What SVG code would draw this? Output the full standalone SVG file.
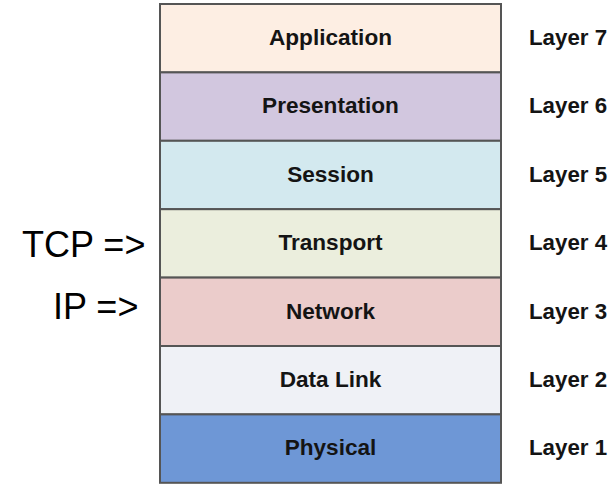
<svg xmlns="http://www.w3.org/2000/svg" width="614" height="484" viewBox="0 0 614 484">
  <style>
    .layer { stroke: #555555; stroke-width: 2; }
    .name { font-family: "Liberation Sans", Arial, sans-serif; font-weight: bold; font-size: 22.6px; fill: #141414; text-anchor: middle; }
    .num { font-family: "Liberation Sans", Arial, sans-serif; font-weight: bold; font-size: 22.3px; fill: #141414; }
    .proto { font-family: "Liberation Sans", Arial, sans-serif; font-size: 36px; fill: #000000; }
  </style>
  <rect width="614" height="484" fill="#ffffff"/>

  <!-- OSI stack, top to bottom -->
  <g id="application">
    <rect class="layer" x="160" y="4" width="341" height="68.4" fill="#fdeee3"/>
    <text class="name" x="330.5" y="45">Application</text>
    <text class="num" x="529" y="45">Layer 7</text>
  </g>
  <g id="presentation">
    <rect class="layer" x="160" y="72.4" width="341" height="68.4" fill="#d2c7df"/>
    <text class="name" x="330.5" y="113.4">Presentation</text>
    <text class="num" x="529" y="113.4">Layer 6</text>
  </g>
  <g id="session">
    <rect class="layer" x="160" y="140.8" width="341" height="68.4" fill="#d3e9ef"/>
    <text class="name" x="330.5" y="181.8">Session</text>
    <text class="num" x="529" y="181.8">Layer 5</text>
  </g>
  <g id="transport">
    <rect class="layer" x="160" y="209.2" width="341" height="68.4" fill="#ebeedd"/>
    <text class="name" x="330.5" y="250.2">Transport</text>
    <text class="num" x="529" y="250.2">Layer 4</text>
  </g>
  <g id="network">
    <rect class="layer" x="160" y="277.6" width="341" height="68.4" fill="#ebcccb"/>
    <text class="name" x="330.5" y="318.6">Network</text>
    <text class="num" x="529" y="318.6">Layer 3</text>
  </g>
  <g id="datalink">
    <rect class="layer" x="160" y="346" width="341" height="68.4" fill="#eff1f6"/>
    <text class="name" x="330.5" y="387">Data Link</text>
    <text class="num" x="529" y="387">Layer 2</text>
  </g>
  <g id="physical">
    <rect class="layer" x="160" y="414.4" width="341" height="68.4" fill="#6e97d6"/>
    <text class="name" x="330.5" y="455.4">Physical</text>
    <text class="num" x="529" y="455.4">Layer 1</text>
  </g>

  <!-- protocol pointers -->
  <g id="connectors">
    <text class="proto" x="22" y="257">TCP =&gt;</text>
    <text class="proto" x="53" y="319">IP =&gt;</text>
  </g>
</svg>
